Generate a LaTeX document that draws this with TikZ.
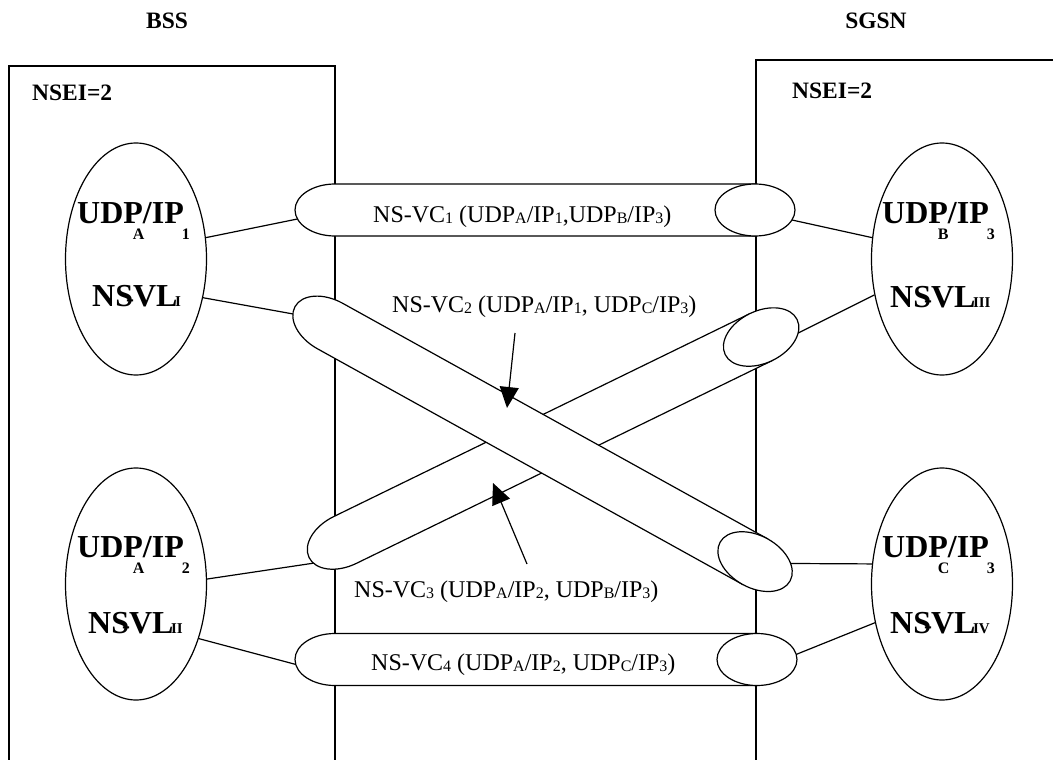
\documentclass[tikz,border=0pt]{standalone}
\usepackage{fontspec}
\setmainfont{Liberation Serif}
\usetikzlibrary{shapes.geometric,arrows.meta}

\newcommand{\sbs}[1]{\raisebox{-1.5pt}{\fontsize{16}{16}\selectfont #1}}
\newcommand{\udpip}[2]{UDP\rlap{\kern-10pt\raisebox{-16pt}{\fontsize{16}{16}\selectfont #1}}/IP\rlap{\kern-2pt\raisebox{-16pt}{\fontsize{16}{16}\selectfont #2}}}
\newcommand{\nsvl}[1]{NS\llap{\fontsize{24}{24}\selectfont -\kern-1pt}VL\kern-2.5pt{\fontsize{15}{15}\selectfont #1}}

\tikzset{
  boxline/.style={line width=1.8pt},
  ipnode/.style={draw, ellipse, line width=1.2pt, minimum width=141pt, minimum height=232pt, inner sep=0pt},
  tubeline/.style={draw, fill=white, line width=1.2pt},
  link/.style={line width=1.2pt},
  hdr/.style={font=\fontsize{23.5}{28}\selectfont\bfseries, inner sep=0pt},
  iplabel/.style={font=\fontsize{32}{36}\selectfont\bfseries, inner sep=0pt, anchor=base west},
  vclabel/.style={font=\fontsize{24}{28}\selectfont, inner sep=0pt, anchor=base west},
  pointer/.style={line width=1.2pt, -{Triangle[length=21pt,width=19pt]}}
}

\begin{document}
\begin{tikzpicture}[x=1pt,y=-1pt]
\useasboundingbox (0,0) rectangle (1053,760);
\clip (0,0) rectangle (1053,760);

\node[hdr, anchor=base] (bss) at (167,29) {BSS};
\node[hdr, anchor=base] (sgsn) at (876,29) {SGSN};
\draw[boxline] (9,762) -- (9,66) -- (335,66) -- (335,762);
\draw[boxline] (756,762) -- (756,60) -- (1060,60);
\node[hdr, anchor=base west] (nseiL) at (32,101) {NSEI=2};
\node[hdr, anchor=base west] (nseiR) at (792,99) {NSEI=2};

\node[ipnode] (ipA1) at (136,259) {};
\node[ipnode] (ipA2) at (136,584) {};
\node[ipnode] (ipB3) at (942,259) {};
\node[ipnode] (ipC3) at (942,584) {};

\node[iplabel] (udpA1) at (77,223) {\udpip{A}{1}};
\node[iplabel] (vlI) at (92,306) {\nsvl{I}};
\node[iplabel] (udpA2) at (77,557) {\udpip{A}{2}};
\node[iplabel] (vlII) at (88,633) {\nsvl{II}};
\node[iplabel] (udpB3) at (882,223) {\udpip{B}{3}};
\node[iplabel] (vlIII) at (890,307) {\nsvl{III}};
\node[iplabel] (udpC3) at (882,557) {\udpip{C}{3}};
\node[iplabel] (vlIV) at (890,633) {\nsvl{IV}};

% tube ends
\begin{scope}[shift={(335,210)}]
\coordinate (vc1w) at (-37.6,9);
\coordinate (vc1e) at (457,10);
\end{scope}
\begin{scope}[shift={(335,659.5)}]
\coordinate (vc4w) at (-39,5);
\coordinate (vc4e) at (461,-5);
\end{scope}
\begin{scope}[shift={(345,540)},rotate=26]
\coordinate (vc3w) at (-38.5,7);
\coordinate (vc3e) at (498,12.6);
\end{scope}
\begin{scope}[shift={(330,326)},rotate=-29]
\coordinate (vc2w) at (-38.2,7.4);
\coordinate (vc2e) at (518,-15.6);
\end{scope}

\draw[link] (ipA1.17) -- (vc1w);
\draw[link] (ipA1.-30) -- (vc2w);
\draw[link] (ipA2.4) -- (vc3w);
\draw[link] (ipA2.-41) -- (vc4w);
\draw[link] (vc1e) -- (ipB3.163);
\draw[link] (vc3e) -- (ipB3.208);
\draw[link] (vc2e) -- (ipC3.164);
\draw[link] (vc4e) -- (ipC3.210);

\begin{scope}[shift={(335,210)}]
\path[tubeline] (0,-26) -- (420,-26) -- (420,26) -- (0,26) arc[start angle=90,end angle=270,x radius=40,y radius=26] -- cycle;
\path[tubeline] (420,0) ellipse[x radius=40,y radius=26];
\end{scope}
\begin{scope}[shift={(335,659.5)}]
\path[tubeline] (0,-26) -- (422,-26) -- (422,26) -- (0,26) arc[start angle=90,end angle=270,x radius=40,y radius=26] -- cycle;
\path[tubeline] (422,0) ellipse[x radius=40,y radius=26];
\end{scope}
\begin{scope}[shift={(345,540)},rotate=26]
\path[tubeline] (0,-26) -- (463,-26) -- (463,26) -- (0,26) arc[start angle=90,end angle=270,x radius=40,y radius=26] -- cycle;
\path[tubeline] (463,0) ellipse[x radius=40,y radius=26];
\end{scope}
\begin{scope}[shift={(330,326)},rotate=-29]
\path[tubeline] (0,-26) -- (486,-26) -- (486,26) -- (0,26) arc[start angle=90,end angle=270,x radius=40,y radius=26] -- cycle;
\path[tubeline] (486,0) ellipse[x radius=40,y radius=26];
\end{scope}

\node[vclabel] (vc1) at (373,222) {NS-VC\sbs{1} (UDP\sbs{A}/IP\sbs{1},UDP\sbs{B}/IP\sbs{3})};
\node[vclabel] (vc2) at (392,312) {NS-VC\sbs{2} (UDP\sbs{A}/IP\sbs{1}, UDP\sbs{C}/IP\sbs{3})};
\node[vclabel] (vc3) at (354,597) {NS-VC\sbs{3} (UDP\sbs{A}/IP\sbs{2}, UDP\sbs{B}/IP\sbs{3})};
\node[vclabel] (vc4) at (371,670) {NS-VC\sbs{4} (UDP\sbs{A}/IP\sbs{2}, UDP\sbs{C}/IP\sbs{3})};

\coordinate (vc2from) at (515,333);
\coordinate (vc2tip) at (507,408);
\coordinate (vc3from) at (527,564);
\coordinate (vc3tip) at (493,483);
\draw[pointer] (vc2from) -- (vc2tip);
\draw[pointer] (vc3from) -- (vc3tip);
\end{tikzpicture}
\end{document}
